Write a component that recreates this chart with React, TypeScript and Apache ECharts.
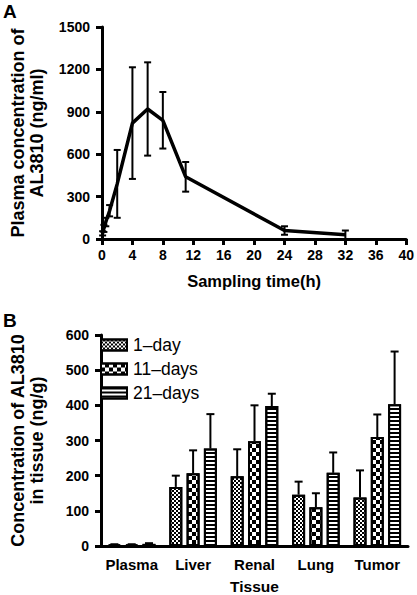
import React, { useEffect, useRef } from "react";
import * as echarts from "echarts";

// Panel A: plasma concentration-time profile
const timeH = [0.083, 0.25, 0.5, 1, 2, 4, 6, 8, 11, 24, 32];
const plasmaConc = [40, 75, 120, 200, 390, 820, 920, 840, 440, 60, 30];
const plasmaSD = [15, 25, 30, 40, 240, 395, 330, 200, 105, 30, 30];
const timeTicks = { min: 0, max: 40, interval: 4 };
const concTicks = { min: 0, max: 1500, interval: 300 };

// Panel B: tissue distribution
const tissues = ["Plasma", "Liver", "Renal", "Lung", "Tumor"];
const seriesNames = ["1\u2013day", "11\u2013days", "21\u2013days"];
const day1 = [4, 168, 198, 146, 138];
const day1SD = [1, 32, 77, 37, 77];
const day11 = [4, 207, 298, 110, 310];
const day11SD = [1, 65, 102, 40, 64];
const day21 = [6, 277, 398, 208, 403];
const day21SD = [2, 98, 35, 58, 150];
const tissueTicks = { min: 0, max: 600, interval: 100 };

const FONT = "Liberation Sans, Arial, Helvetica, sans-serif";

export default function App() {
  const ref = useRef<HTMLDivElement>(null);
  useEffect(() => {
    if (!ref.current) return;
    const chart = echarts.init(ref.current, null, { renderer: "svg" });

    const axisLine = { lineStyle: { color: "#000", width: 3 } };
    const axisTick = { length: 6, lineStyle: { color: "#000", width: 3 } };
    const plain = (v: any) => String(v);
    const tickLabel = (margin: number, size = 14) => ({
      show: true,
      color: "#000",
      fontSize: size,
      fontWeight: "bold",
      fontFamily: FONT,
      margin,
      formatter: plain,
    });

    const errA = (params: any, api: any) => {
      const x = api.value(0);
      const y = api.value(1);
      const e = api.value(2);
      const top = api.coord([x, y + e]);
      const bot = api.coord([x, Math.max(0, y - e)]);
      const cap = 3.5;
      const st = { stroke: "#000", lineWidth: 2 };
      return {
        type: "group",
        children: [
          { type: "line", shape: { x1: top[0], y1: top[1], x2: bot[0], y2: bot[1] }, style: st },
          { type: "line", shape: { x1: top[0] - cap, y1: top[1], x2: top[0] + cap, y2: top[1] }, style: st },
          { type: "line", shape: { x1: bot[0] - cap, y1: bot[1], x2: bot[0] + cap, y2: bot[1] }, style: st },
        ],
      };
    };

    const spacing = 17.3;
    const makeErrB = (offset: number) => (params: any, api: any) => {
      const c = api.value(0);
      const v = api.value(1);
      const e = api.value(2);
      const base = api.coord([c, v]);
      const top = api.coord([c, v + e]);
      const x = base[0] + offset * spacing;
      const cap = 4;
      const st = { stroke: "#000", lineWidth: 2 };
      return {
        type: "group",
        children: [
          { type: "line", shape: { x1: x, y1: base[1], x2: x, y2: top[1] }, style: st },
          { type: "line", shape: { x1: x - cap, y1: top[1], x2: x + cap, y2: top[1] }, style: st },
        ],
      };
    };

    const decals = [
      { symbol: "rect", symbolSize: 1, color: "#000", backgroundColor: "#fff", dashArrayX: [[2, 2], [0, 2, 2, 0]], dashArrayY: [2, 0], rotation: 0 },
      { symbol: "rect", symbolSize: 1, color: "#000", backgroundColor: "#fff", dashArrayX: [[4, 4], [0, 4, 4, 0]], dashArrayY: [4, 0], rotation: 0 },
      { symbol: "rect", symbolSize: 1, color: "#000", backgroundColor: "#fff", dashArrayX: [1, 0], dashArrayY: [2, 2], rotation: 0 },
    ];
    const barVals = [day1, day11, day21];
    const barSD = [day1SD, day11SD, day21SD];

    const barSeries = seriesNames.map((name, i) => ({
      type: "bar",
      name,
      xAxisIndex: 1,
      yAxisIndex: 1,
      barWidth: 13,
      barGap: "33%",
      data: barVals[i],
      itemStyle: { color: "#fff", borderColor: "#000", borderWidth: 2, decal: decals[i] },
    }));
    const errBSeries = seriesNames.map((name, i) => ({
      type: "custom",
      name: name + " SD",
      xAxisIndex: 1,
      yAxisIndex: 1,
      renderItem: makeErrB(i - 1),
      data: barVals[i].map((v, k) => [k, v, barSD[i][k]]),
      z: 1,
    }));

    const titleStyle = { color: "#000", fontSize: 18, fontWeight: "bold", fontFamily: FONT, lineHeight: 19 };

    chart.setOption({
      animation: false,
      backgroundColor: "#fff",
      textStyle: { fontFamily: FONT, color: "#000" },
      grid: [
        { left: 92, top: 27, width: 317, height: 212 },
        { left: 90, top: 335, width: 318, height: 212 },
      ],
      legend: {
        orient: "vertical",
        left: 100,
        top: 335,
        padding: 0,
        itemWidth: 26,
        itemHeight: 11,
        itemGap: 4,
        icon: "rect",
        selectedMode: false,
        data: seriesNames,
        textStyle: { color: "#000", fontSize: 17.5, fontFamily: FONT, lineHeight: 20, padding: [0, 0, 0, 1] },
      },
      xAxis: [
        {
          type: "value",
          gridIndex: 0,
          ...timeTicks,
          name: "Sampling time(h)",
          nameLocation: "middle",
          nameGap: 33,
          nameTextStyle: { color: "#000", fontSize: 16.5, fontWeight: "bold", fontFamily: FONT },
          axisLine: { ...axisLine, onZero: false },
          axisTick,
          axisLabel: { ...tickLabel(9), showMinLabel: true, showMaxLabel: true },
          splitLine: { show: false },
        },
        {
          type: "category",
          gridIndex: 1,
          data: tissues,
          name: "Tissue",
          nameLocation: "middle",
          nameGap: 32,
          nameTextStyle: { color: "#000", fontSize: 15.5, fontWeight: "bold", fontFamily: FONT },
          axisLine,
          axisTick: { ...axisTick, alignWithLabel: true },
          axisLabel: { ...tickLabel(11, 15), interval: 0 },
        },
      ],
      yAxis: [
        {
          type: "value",
          gridIndex: 0,
          ...concTicks,
          name: "Plasma concentration of\nAL3810 (ng/ml)",
          nameLocation: "middle",
          nameGap: 56,
          nameTextStyle: titleStyle,
          axisLine: { ...axisLine, show: true },
          axisTick: { ...axisTick, show: true },
          axisLabel: tickLabel(12),
          splitLine: { show: false },
        },
        {
          type: "value",
          gridIndex: 1,
          ...tissueTicks,
          name: "Concentration of AL3810\nin tissue (ng/g)",
          nameLocation: "middle",
          nameGap: 55,
          nameTextStyle: titleStyle,
          axisLine: { ...axisLine, show: true },
          axisTick: { ...axisTick, show: true },
          axisLabel: tickLabel(12),
          splitLine: { show: false },
        },
      ],
      graphic: [
        { type: "text", left: 3, top: 2, style: { text: "A", fill: "#000", font: `bold 19px ${FONT}` } },
        { type: "text", left: 3, top: 311, style: { text: "B", fill: "#000", font: `bold 19px ${FONT}` } },
      ],
      series: [
        {
          type: "line",
          name: "plasma",
          xAxisIndex: 0,
          yAxisIndex: 0,
          data: timeH.map((t, i) => [t, plasmaConc[i]]),
          symbol: "none",
          lineStyle: { color: "#000", width: 3.5 },
          z: 3,
        },
        {
          type: "custom",
          name: "plasma SD",
          xAxisIndex: 0,
          yAxisIndex: 0,
          renderItem: errA,
          data: timeH.map((t, i) => [t, plasmaConc[i], plasmaSD[i]]),
          z: 2,
        },
        ...barSeries,
        ...errBSeries,
      ],
    });
    return () => chart.dispose();
  }, []);
  return (
    <div
      ref={ref}
      style={{ position: "fixed", left: 0, top: 0, width: 417, height: 595, background: "#fff" }}
    />
  );
}
